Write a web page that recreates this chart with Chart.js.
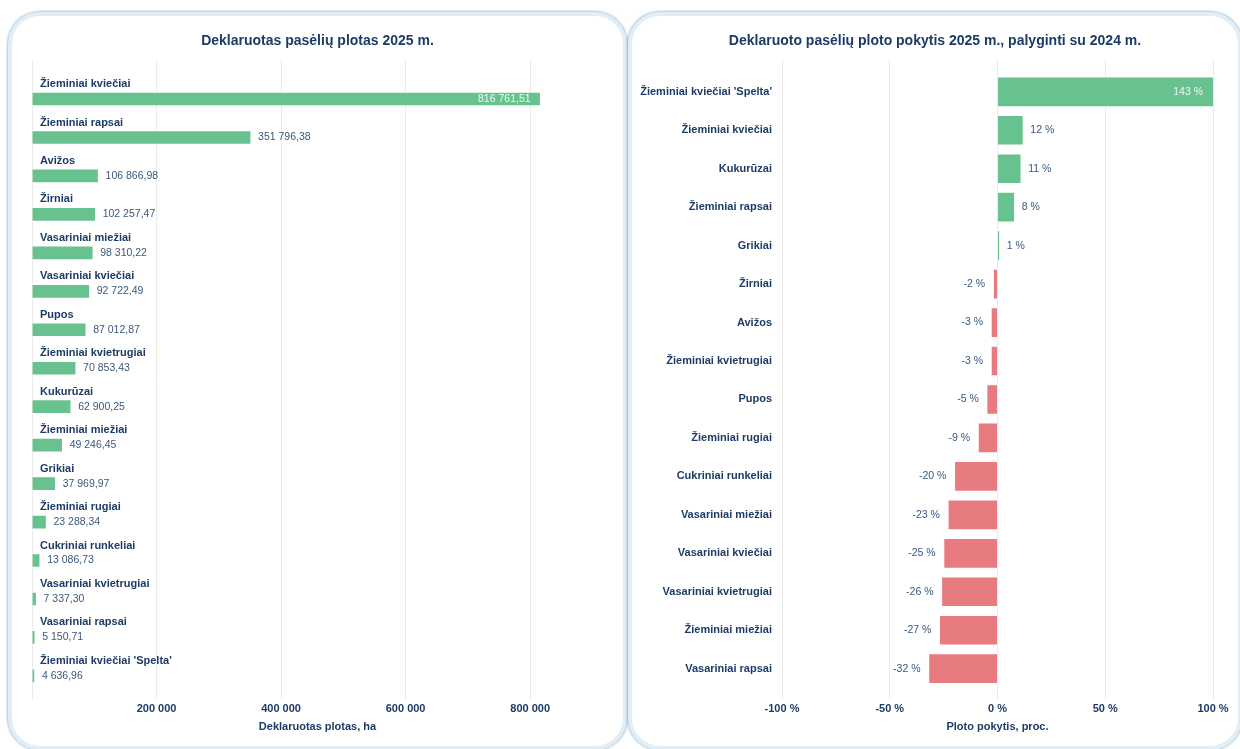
<!DOCTYPE html>
<html lang="lt">
<head>
<meta charset="utf-8">
<title>Deklaruoti pasėliai 2025</title>
<script src="https://cdn.jsdelivr.net/npm/chart.js@4.4.1/dist/chart.umd.min.js"></script>
<style>
  body { margin: 0; background: #fff; width: 1240px; height: 749px; overflow: hidden; position: relative; }
  .card {
    position: absolute; top: 12px; height: 738px; box-sizing: border-box;
    border: 4px solid #e2edf5; border-radius: 32px; background: #fff;
    box-shadow: 0 0 2px 1px rgba(112, 162, 200, 0.6);
  }
  #card-left { left: 8px; width: 619px; }
  #card-right { left: 628px; width: 614px; }
  canvas { display: block; }
</style>
</head>
<body>
<div class="card" id="card-left"><canvas id="area-chart" width="611" height="730"></canvas></div>
<div class="card" id="card-right"><canvas id="change-chart" width="606" height="730"></canvas></div>
<script>
// Deklaruotas plotas 2025 m., ha
const areaCrops = [
  'Žieminiai kviečiai', 'Žieminiai rapsai', 'Avižos', 'Žirniai', 'Vasariniai miežiai',
  'Vasariniai kviečiai', 'Pupos', 'Žieminiai kvietrugiai', 'Kukurūzai', 'Žieminiai miežiai',
  'Grikiai', 'Žieminiai rugiai', 'Cukriniai runkeliai', 'Vasariniai kvietrugiai',
  'Vasariniai rapsai', "Žieminiai kviečiai 'Spelta'"
];
const areaValues = [
  816761.51, 351796.38, 106866.98, 102257.47, 98310.22,
  92722.49, 87012.87, 70853.43, 62900.25, 49246.45,
  37969.97, 23288.34, 13086.73, 7337.30, 5150.71, 4636.96
];
const areaTicks = [0, 200000, 400000, 600000, 800000];
const areaTickLabels = ['', '200 000', '400 000', '600 000', '800 000'];

// Ploto pokytis, palyginti su 2024 m., proc.
const changeCrops = [
  "Žieminiai kviečiai 'Spelta'", 'Žieminiai kviečiai', 'Kukurūzai', 'Žieminiai rapsai', 'Grikiai',
  'Žirniai', 'Avižos', 'Žieminiai kvietrugiai', 'Pupos', 'Žieminiai rugiai',
  'Cukriniai runkeliai', 'Vasariniai miežiai', 'Vasariniai kviečiai', 'Vasariniai kvietrugiai',
  'Žieminiai miežiai', 'Vasariniai rapsai'
];
const changeValues = [143, 12, 11, 8, 1, -2, -3, -3, -5, -9, -20, -23, -25, -26, -27, -32];
const changeTicks = [-100, -50, 0, 50, 100];
const changeTickLabels = ['-100 %', '-50 %', '0 %', '50 %', '100 %'];

const NAVY = '#1d3b66';
const VALUE_TXT = '#3a587d';
const GREEN = '#68c28f';
const RED = '#e87b80';
const GRID = '#ebebeb';
const FAMILY = '"Liberation Sans", Arial, Helvetica, sans-serif';

Chart.defaults.font.family = FAMILY;
Chart.defaults.color = NAVY;
Chart.defaults.animation = false;

function fmtHa(v) {
  const parts = v.toFixed(2).split('.');
  return parts[0].replace(/\B(?=(\d{3})+(?!\d))/g, ' ') + ',' + parts[1];
}
const fmtPct = v => Math.round(v) + ' %';

// value labels next to the bars, crop names above bars when names given
function barLabels(names, format) {
  return {
    id: 'barLabels',
    afterDatasetsDraw(chart) {
      const ctx = chart.ctx;
      const area = chart.chartArea;
      const bars = chart.getDatasetMeta(0).data;
      const data = chart.data.datasets[0].data;
      ctx.save();
      ctx.textBaseline = 'middle';
      bars.forEach((bar, i) => {
        const v = data[i].x;
        if (names) {
          ctx.font = 'bold 11px ' + FAMILY;
          ctx.fillStyle = NAVY;
          ctx.textAlign = 'left';
          ctx.fillText(names[i], area.left + 8, bar.y - bar.height / 2 - 8);
        }
        const text = format(v);
        ctx.font = '10.5px ' + FAMILY;
        const w = ctx.measureText(text).width;
        const end = Math.min(bar.x, area.right);
        if (v < 0) {
          ctx.fillStyle = VALUE_TXT;
          ctx.textAlign = 'right';
          ctx.fillText(text, end - 8, bar.y);
        } else if (end + 7 + w > area.right - 12) {
          ctx.fillStyle = '#eef8f2';
          ctx.textAlign = 'right';
          ctx.fillText(text, end - 10, bar.y);
        } else {
          ctx.fillStyle = VALUE_TXT;
          ctx.textAlign = 'left';
          ctx.fillText(text, end + 7, bar.y);
        }
      });
      ctx.restore();
    }
  };
}

// centre the title on the whole canvas, not on the padded box
const centerTitle = {
  id: 'centerTitle',
  afterLayout(chart) {
    if (chart.titleBlock) {
      chart.titleBlock.left = 0;
      chart.titleBlock.right = chart.width;
    }
  }
};

const titleFont = { size: 14, weight: 'bold' };
const axisFont = { size: 11, weight: 'bold' };

new Chart(document.getElementById('area-chart'), {
  type: 'bar',
  data: {
    datasets: [{
      data: areaValues.map((v, i) => ({ x: v, y: i })),
      backgroundColor: GREEN,
      borderColor: 'rgba(255,255,255,0.4)',
      borderWidth: 1,
      barThickness: 14
    }]
  },
  options: {
    indexAxis: 'y',
    responsive: false,
    layout: { padding: { left: 20, right: 20, top: 0, bottom: 12 } },
    plugins: {
      legend: { display: false },
      tooltip: { enabled: false },
      title: {
        display: true, text: 'Deklaruotas pasėlių plotas 2025 m.',
        color: NAVY, font: titleFont, padding: { top: 17, bottom: 10 }
      }
    },
    scales: {
      x: {
        min: 0, max: 917000,
        afterBuildTicks: s => { s.ticks = areaTicks.map(v => ({ value: v })); },
        grid: { color: GRID, drawTicks: false },
        border: { display: false },
        ticks: { padding: 4, color: NAVY, font: axisFont, callback: (v, i) => areaTickLabels[i] },
        title: {
          display: true, text: 'Deklaruotas plotas, ha',
          color: NAVY, font: axisFont, padding: { top: 1, bottom: 0 }
        }
      },
      y: { type: 'linear', display: false, offset: false, reverse: true, min: -1.02, max: 15.59 }
    }
  },
  plugins: [barLabels(areaCrops, fmtHa), centerTitle]
});

new Chart(document.getElementById('change-chart'), {
  type: 'bar',
  data: {
    datasets: [{
      data: changeValues.map((v, i) => ({ x: v, y: i })),
      backgroundColor: changeValues.map(v => v >= 0 ? GREEN : RED),
      borderColor: 'rgba(255,255,255,0.4)',
      borderWidth: 1,
      barThickness: 30
    }]
  },
  options: {
    indexAxis: 'y',
    responsive: false,
    layout: { padding: { left: 8, right: 25, top: 0, bottom: 12 } },
    plugins: {
      legend: { display: false },
      tooltip: { enabled: false },
      title: {
        display: true, text: 'Deklaruoto pasėlių ploto pokytis 2025 m., palyginti su 2024 m.',
        color: NAVY, font: titleFont, padding: { top: 17, bottom: 10 }
      }
    },
    scales: {
      x: {
        min: -100, max: 100,
        afterBuildTicks: s => { s.ticks = changeTicks.map(v => ({ value: v })); },
        grid: { color: GRID, drawTicks: false },
        border: { display: false },
        ticks: { padding: 4, color: NAVY, font: axisFont, callback: (v, i) => changeTickLabels[i] },
        title: {
          display: true, text: 'Ploto pokytis, proc.',
          color: NAVY, font: axisFont, padding: { top: 1, bottom: 0 }
        }
      },
      y: {
        type: 'linear', offset: false, reverse: true, min: -0.832, max: 15.778,
        afterBuildTicks: s => { s.ticks = changeCrops.map((c, i) => ({ value: i })); },
        afterFit: s => { s.width = 142; },
        grid: { display: false, drawTicks: false },
        border: { display: false },
        ticks: { autoSkip: false, padding: 10, color: NAVY, font: axisFont, callback: v => changeCrops[v] }
      }
    }
  },
  plugins: [barLabels(null, fmtPct), centerTitle]
});
</script>
</body>
</html>
